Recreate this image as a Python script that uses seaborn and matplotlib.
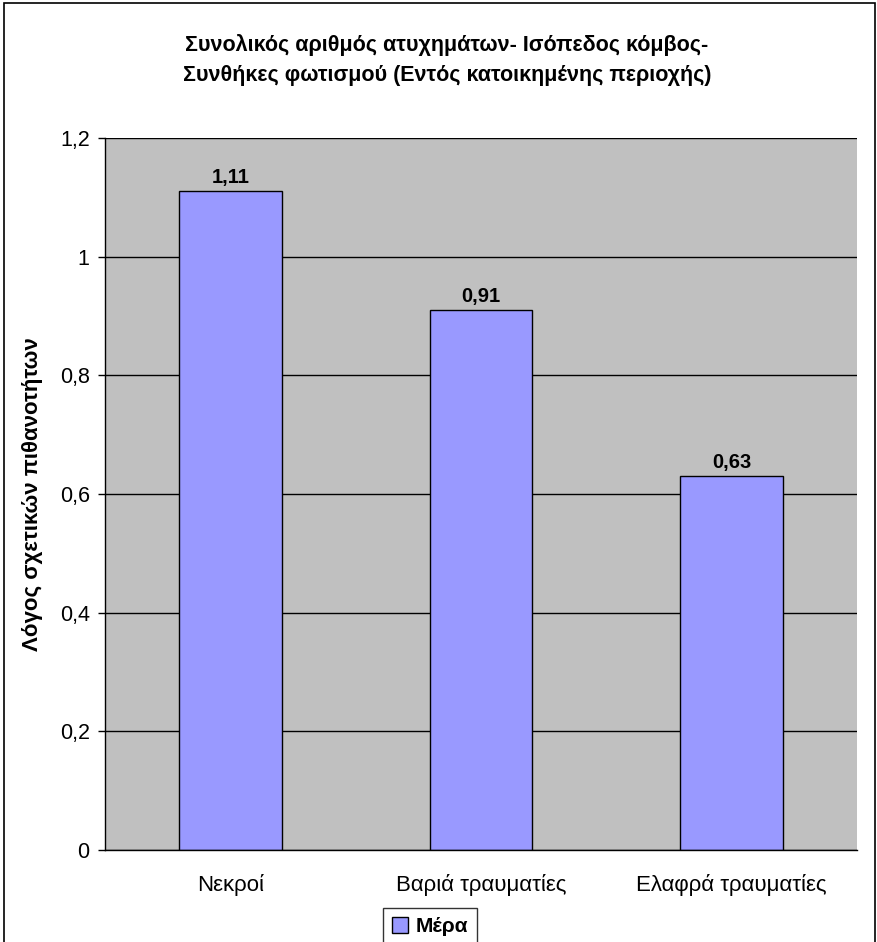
import matplotlib
matplotlib.use("Agg")
import matplotlib.pyplot as plt
import matplotlib.patches as mpatches
import seaborn as sns
import pandas as pd

categories = ["Νεκροί", "Βαριά τραυματίες", "Ελαφρά τραυματίες"]
values = [1.11, 0.91, 0.63]
series_name = "Μέρα"
y_ticks = [0, 0.2, 0.4, 0.6, 0.8, 1.0, 1.2]
y_tick_labels = ["0", "0,2", "0,4", "0,6", "0,8", "1", "1,2"]
title_text = ("Συνολικός αριθμός ατυχημάτων- Ισόπεδος κόμβος-\n"
              "Συνθήκες φωτισμού (Εντός κατοικημένης περιοχής)")
y_label = "Λόγος σχετικών πιθανοτήτων"

sns.set_theme(style="white")
plt.rcParams["font.family"] = ["Liberation Sans", "DejaVu Sans"]
plt.rcParams["text.color"] = "black"
plt.rcParams["axes.labelcolor"] = "black"
plt.rcParams["xtick.color"] = "black"
plt.rcParams["ytick.color"] = "black"

df = pd.DataFrame({"cat": categories, "val": values, "series": series_name})

W, H = 877, 942
fig = plt.figure(figsize=(W / 100, H / 100), dpi=100)
fig.patch.set_facecolor("white")

left, right, top, bottom = 105, 857, 138, 850
ax = fig.add_axes([left / W, 1 - bottom / H, (right - left) / W, (bottom - top) / H])
ax.set_facecolor("#C0C0C0")

sns.barplot(data=df, x="cat", y="val", hue="series", palette=["#9999FF"],
            saturation=1, width=0.41, edgecolor="black", linewidth=1,
            ax=ax, zorder=3)

ax.set_ylim(0, 1.2)
ax.set_xlim(-0.5, len(categories) - 0.5)
ax.set_yticks(y_ticks)
ax.set_yticklabels(y_tick_labels)
ax.yaxis.grid(True, color="black", linewidth=1)
ax.set_axisbelow(True)
for gl in ax.get_ygridlines():
    gl.set_zorder(1)

for s in ["top", "right"]:
    ax.spines[s].set_visible(False)
for s in ["left", "bottom"]:
    ax.spines[s].set_visible(True)
    ax.spines[s].set_color("black")
    ax.spines[s].set_linewidth(1)
    ax.spines[s].set_zorder(4)

# category ticks sit on the boundaries between groups
ax.set_xticks(list(range(len(categories))))
ax.set_xticklabels(categories, fontsize=16)
ax.tick_params(axis="x", length=0, pad=17)
ax.set_xticks([i - 0.5 for i in range(len(categories) + 1)], minor=True)
ax.tick_params(axis="x", which="minor", length=5, width=1, color="black", direction="out")
ax.tick_params(axis="y", length=5, width=1, color="black", direction="out",
               labelsize=15.5, pad=6, left=True)
ax.set_xlabel("")
ax.set_ylabel(y_label, fontsize=16, fontweight="bold")
ax.yaxis.set_label_coords(43 / W, 1 - 494 / H, transform=fig.transFigure)

for cont in ax.containers:
    ax.bar_label(cont, labels=[f"{v:.2f}".replace(".", ",") for v in cont.datavalues],
                 fontsize=14.5, fontweight="bold", padding=3)

fig.text(447 / W, 1 - 60 / H, title_text, ha="center", va="center",
         fontsize=15.5, fontweight="bold", linespacing=1.55)

# legend below the plot
handles, labels = ax.get_legend_handles_labels()
ax.legend_.remove()
leg = fig.legend(handles, labels, loc="upper left",
                 bbox_to_anchor=(383 / W, 1 - 908 / H),
                 frameon=True, fancybox=False, edgecolor="black",
                 prop={"size": 15, "weight": "bold"},
                 handlelength=0.75, handleheight=0.75, handletextpad=0.35,
                 borderpad=0.45, borderaxespad=0)
leg.get_frame().set_linewidth(1)

# chart-area frame
fig.patches.append(mpatches.Rectangle((4 / W, -0.05), (875 - 4) / W, 1.05 - 3 / H,
                                      transform=fig.transFigure, fill=False,
                                      edgecolor="black", linewidth=1.2))

fig.savefig("out.png", dpi=100)
